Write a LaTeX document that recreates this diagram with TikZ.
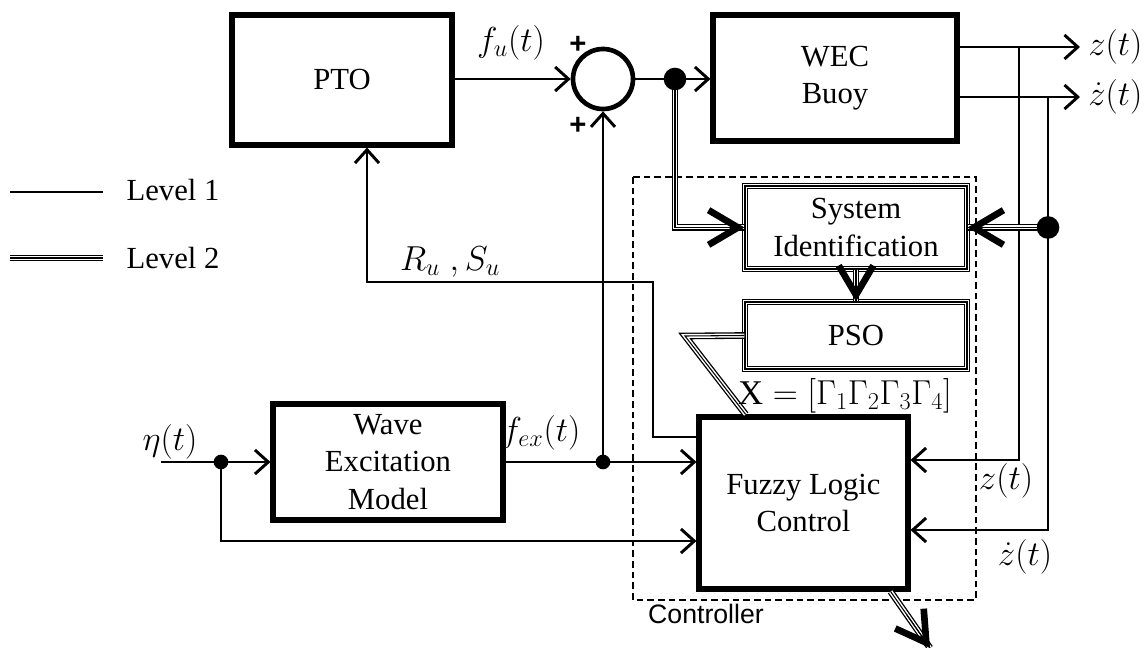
\RequirePackage{fix-cm}
\documentclass[tikz,border=0pt]{standalone}
\usepackage{fontspec}
\setmainfont{Liberation Serif}
\newfontfamily\timesf{Liberation Serif}
\newfontfamily\arialf{Liberation Sans}
\usetikzlibrary{arrows.meta,calc}
\begin{document}
\begin{tikzpicture}[x=0.75pt,y=-0.75pt,
  font=\timesf\fontsize{23}{28}\selectfont,
  lone/.style={line width=2.2pt},
  arr/.style={lone, -{Straight Barb[length=10pt,width=18pt]}},
  blk/.style={draw, line width=3.8pt, align=center, inner sep=0pt},
  dblbox/.style={draw, line width=0.8pt, align=center, inner sep=0pt,
     preaction={draw, line width=5pt}, preaction={draw, white, line width=3pt}},
  dbl/.style={line width=0.8pt, line join=miter, draw,
     preaction={draw, line width=5pt}, preaction={draw, white, line width=3pt}},
  bigtip/.style={line width=0.8pt, -{Straight Barb[length=22pt,width=26pt,line width=5pt]}},
  dot/.style={circle, fill, inner sep=0pt, minimum size=17pt},
  sdot/.style={circle, fill, inner sep=0pt, minimum size=11pt},
  lab/.style={inner sep=1pt},
  mlab/.style={inner sep=1pt, font=\fontsize{26}{30}\selectfont}]
\useasboundingbox (0,0) rectangle (1148,648);

% blocks
\node[blk, minimum width=165pt, minimum height=97.5pt] (pto) at (342,80) {PTO};
\node[circle, draw, line width=3.5pt, minimum size=45pt, inner sep=0pt] (sum) at (603,79) {};
\node[blk, minimum width=183pt, minimum height=94.5pt] (wec) at (835,78) {WEC\\Buoy};
\node[blk, minimum width=172.5pt, minimum height=87pt] (wave) at (388,462) {Wave\\Excitation\\Model};
\node[blk, minimum width=156.75pt, minimum height=129pt] (flc) at (803.5,503) {Fuzzy Logic\\Control};
\node[dblbox, minimum width=166.5pt, minimum height=62.25pt] (sid) at (856,227.5) {System\\Identification};
\node[dblbox, minimum width=166.5pt, minimum height=50.25pt] (pso) at (856,335.5) {PSO};
\draw[dashed, line width=1.3pt, dash pattern=on 5pt off 3pt] (633,177) rectangle (976,600);
\node[lab] (ctl) at (706,614) {\arialf\fontsize{20}{24}\selectfont Controller};

% coordinates
\coordinate (j1) at (675,79);
\coordinate (j2) at (1048,227.5);
\coordinate (j3) at (603,462);
\coordinate (j4) at (221,462);
\coordinate (zo) at (1080,47);
\coordinate (zdo) at (1080,97);
\coordinate (zx) at (1019,47);
\coordinate (zin) at (1019,460);
\coordinate (zdx) at (1048,97);
\coordinate (zdin) at (1048,530);
\coordinate (pk) at (685,336);
\coordinate (ft) at ($(flc.north west)!0.23!(flc.north east)$);
\coordinate (fb) at ($(flc.south west)!0.907!(flc.south east)$);
\coordinate (out) at (930,648);
\coordinate (r1) at (653,437);
\coordinate (r2) at (653,282);
\coordinate (r3) at (367,282);
\coordinate (eta0) at (161,462);
\coordinate (e2) at (221,541);

% level 1 connectors
\draw[arr] (pto.east |- sum.west) -- (sum.west);
\draw[lone] (sum.east) -- (j1);
\draw[arr] (j1) -- (wec.west |- j1);
\draw[arr] (wec.east |- zo) -- (zo);
\draw[arr] (wec.east |- zdo) -- (zdo);
\draw[arr] (zx) -- (zin) -- (flc.east |- zin);
\draw[arr] (zdx) -- (zdin) -- (flc.east |- zdin);
\draw[arr] (flc.west |- r1) -- (r1) -- (r2) -- (r3) -- (r3 |- pto.south);
\draw[lone] (wave.east |- j3) -- (j3);
\draw[arr] (j3) -- (flc.west |- j3);
\draw[arr] (j3) -- (sum.south);
\draw[arr] (eta0) -- (wave.west);
\draw[arr] (j4) -- (e2) -- (flc.west |- e2);

% level 2 connectors
\draw[dbl] (j1) -- (j1 |- sid.west) -- (sid.west);
\draw[bigtip] ($(sid.west)+(-30,0)$) -- (sid.west);
\draw[dbl] (j2) -- (sid.east);
\draw[bigtip] ($(sid.east)+(30,0)$) -- (sid.east);
\draw[dbl] (sid.south) -- (pso.north);
\draw[bigtip] ($(pso.north)+(0,-28)$) -- (pso.north);
\draw[dbl] (pso.west) -- (pk) -- (ft);
\draw[dbl] (fb) -- (out);
\draw[bigtip] ($(fb)!0.4!(out)$) -- (out);

% junction dots
\node[dot] (d1) at (j1) {};
\node[dot] (d2) at (j2) {};
\node[sdot] (d3) at (j3) {};
\node[sdot] (d4) at (j4) {};

% labels
\node[mlab] (fu) at (511,43) {$f_u(t)$};
\node[lab] (p1) at (578,45) {\arialf\bfseries\fontsize{22}{24}\selectfont +};
\node[lab] (p2) at (578,126) {\arialf\bfseries\fontsize{22}{24}\selectfont +};
\node[mlab, anchor=west, inner sep=6pt] (zl) at (zo) {$z(t)$};
\node[mlab, anchor=west, inner sep=6pt] (zdl) at (zdo) {$\dot z(t)$};
\node[mlab] (rs) at (450,262) {$R_u\;,S_u$};
\node[mlab] (fexl) at (541,433) {$f_{ex}(t)$};
\node[mlab] (etal) at (170,442) {$\eta(t)$};
\node[mlab] (zl2) at (1006,481) {$z(t)$};
\node[mlab] (zdl2) at (1025,557) {$\dot z(t)$};
\node[mlab] (xl) at (845,396) {$\mathrm{X}=[\Gamma_1\Gamma_2\Gamma_3\Gamma_4]$};

% legend
\coordinate (la) at (10,192);
\coordinate (lb) at (103,192);
\coordinate (lc) at (10,258);
\coordinate (ld) at (103,258);
\draw[lone] (la) -- (lb);
\draw[dbl] (lc) -- (ld);
\node[lab, anchor=west] (lv1) at (125,190) {Level 1};
\node[lab, anchor=west] (lv2) at (125,258) {Level 2};
\end{tikzpicture}
\end{document}
